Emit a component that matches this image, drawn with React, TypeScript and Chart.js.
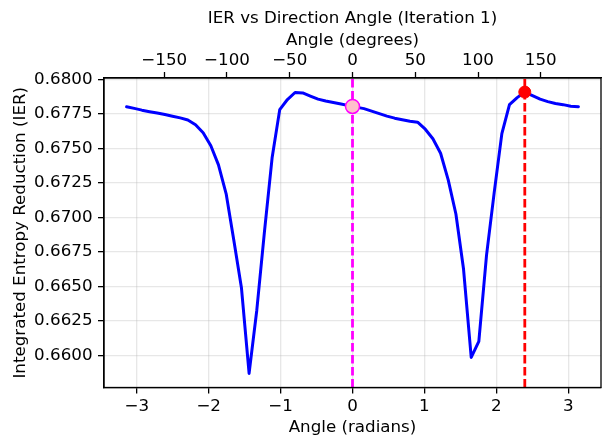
import { useEffect, useRef } from "react";
import { Chart, registerables } from "chart.js";

Chart.register(...registerables);

// Sampled direction angles (radians) and the integrated entropy reduction at each.
const ANGLES_RAD = [
  -3.142, -3.035, -2.929, -2.822, -2.716, -2.609, -2.503, -2.396, -2.29, -2.183,
  -2.077, -1.97, -1.864, -1.757, -1.651, -1.544, -1.438, -1.331, -1.225, -1.118,
  -1.012, -0.905, -0.799, -0.692, -0.586, -0.479, -0.373, -0.266, -0.16, -0.053,
  0.053, 0.16, 0.266, 0.373, 0.479, 0.586, 0.692, 0.799, 0.905, 1.012,
  1.118, 1.225, 1.331, 1.438, 1.544, 1.651, 1.757, 1.864, 1.97, 2.077,
  2.183, 2.29, 2.396, 2.503, 2.609, 2.716, 2.822, 2.929, 3.035, 3.142,
];

const IER_VALUES = [
  0.67803, 0.67791, 0.67778, 0.67767, 0.67757, 0.67746, 0.67734, 0.67722, 0.67707, 0.67673,
  0.67615, 0.6752, 0.67382, 0.67172, 0.66837, 0.66489, 0.65871, 0.66329, 0.66895, 0.67433,
  0.67782, 0.67855, 0.67906, 0.67903, 0.6788, 0.67858, 0.67844, 0.67833, 0.67822, 0.67811,
  0.678, 0.67789, 0.67771, 0.67753, 0.67735, 0.6772, 0.67709, 0.67698, 0.67691, 0.6764,
  0.67571, 0.67466, 0.67273, 0.67026, 0.66627, 0.65987, 0.66103, 0.66728, 0.67179, 0.67608,
  0.67818, 0.67869, 0.67909, 0.67884, 0.67858, 0.6784, 0.67826, 0.67818, 0.67807, 0.67803,
];

// Current search direction and its IER.
const CURRENT_ANGLE = 0;
const CURRENT_IER = 0.67805;

const TITLE = "IER vs Direction Angle (Iteration 1)";
const X_TICKS_RAD = [-3, -2, -1, 0, 1, 2, 3];
const X_TICKS_DEG = [-150, -100, -50, 0, 50, 100, 150];
const Y_TICKS = [0.66, 0.6625, 0.665, 0.6675, 0.67, 0.6725, 0.675, 0.6775, 0.68];

const X_LIMITS = [-3.4558, 3.4558];
const Y_LIMITS = [0.65769, 0.68011];

const FONT_FAMILY = "'DejaVu Sans', 'Liberation Sans', sans-serif";
const FONT_SIZE = 16.7;

const fmtSigned = (v: number) => (v < 0 ? "\u2212" + Math.abs(v) : String(v));

const framePlugin = {
  id: "frame",
  afterDatasetsDraw(chart: any) {
    const { ctx, chartArea: a } = chart;
    ctx.save();
    ctx.strokeStyle = "#000";
    ctx.lineWidth = 1.3;
    ctx.strokeRect(a.left, a.top, a.right - a.left, a.bottom - a.top);
    ctx.restore();
  },
};

export default function App() {
  const canvasRef = useRef<HTMLCanvasElement | null>(null);

  useEffect(() => {
    const canvas = canvasRef.current;
    if (!canvas) return;

    let bestIdx = 0;
    IER_VALUES.forEach((v, i) => {
      if (v > IER_VALUES[bestIdx]) bestIdx = i;
    });
    const bestAngle = ANGLES_RAD[bestIdx];
    const bestIer = IER_VALUES[bestIdx];
    const toDeg = (r: number) => (r * 180) / Math.PI;

    const tickFont = { family: FONT_FAMILY, size: FONT_SIZE };

    const chart = new Chart(canvas, {
      type: "line",
      data: {
        datasets: [
          {
            label: "best",
            data: [{ x: bestAngle, y: bestIer }],
            showLine: false,
            pointRadius: 6,
            pointBackgroundColor: "#ff0000",
            pointBorderColor: "#ff0000",
            pointBorderWidth: 1,
            order: 0,
          },
          {
            label: "current",
            data: [{ x: CURRENT_ANGLE, y: CURRENT_IER }],
            showLine: false,
            pointRadius: 7,
            pointBackgroundColor: "#ffc0cb",
            pointBorderColor: "#ff00ff",
            pointBorderWidth: 1.5,
            order: 0,
          },
          {
            label: "best direction",
            data: [
              { x: bestAngle, y: Y_LIMITS[0] },
              { x: bestAngle, y: Y_LIMITS[1] },
            ],
            borderColor: "#ff0000",
            borderWidth: 2.8,
            borderDash: [8.5, 3.5],
            pointRadius: 0,
            order: 1,
          },
          {
            label: "current direction",
            data: [
              { x: CURRENT_ANGLE, y: Y_LIMITS[0] },
              { x: CURRENT_ANGLE, y: Y_LIMITS[1] },
            ],
            borderColor: "#ff00ff",
            borderWidth: 2.8,
            borderDash: [8.5, 3.5],
            pointRadius: 0,
            order: 1,
          },
          {
            label: "IER",
            data: ANGLES_RAD.map((a, i) => ({ x: a, y: IER_VALUES[i] })),
            borderColor: "#0000ff",
            borderWidth: 3,
            borderJoinStyle: "round",
            borderCapStyle: "round",
            pointRadius: 0,
            tension: 0,
            order: 2,
          },
        ],
      },
      options: {
        responsive: false,
        animation: false,
        devicePixelRatio: 1,
        layout: { autoPadding: false, padding: { left: 0, right: 2, top: 0, bottom: 0 } },
        plugins: {
          legend: { display: false },
          tooltip: { enabled: false },
          title: { display: false },
        },
        scales: {
          x: {
            type: "linear",
            position: "bottom",
            min: X_LIMITS[0],
            max: X_LIMITS[1],
            afterBuildTicks: (s: any) => {
              s.ticks = X_TICKS_RAD.map((v) => ({ value: v }));
            },
            afterFit: (s: any) => {
              s.height = 52.5;
              s.paddingLeft = 0;
              s.paddingRight = 0;
            },
            ticks: {
              color: "#000",
              font: tickFont,
              padding: 3,
              maxRotation: 0,
              callback: (v: any) => fmtSigned(Number(v)),
            },
            grid: {
              color: "rgba(176,176,176,0.3)",
              lineWidth: 1.3,
              tickColor: "#000",
              tickLength: 6,
              tickWidth: 1.3,
            },
            border: { display: true, color: "#000", width: 1.3 },
            title: {
              display: true,
              text: "Angle (radians)",
              color: "#000",
              font: tickFont,
              padding: { top: 0, bottom: 2 },
            },
          },
          xTop: {
            type: "linear",
            axis: "x",
            position: "top",
            min: toDeg(X_LIMITS[0]),
            max: toDeg(X_LIMITS[1]),
            afterBuildTicks: (s: any) => {
              s.ticks = X_TICKS_DEG.map((v) => ({ value: v }));
            },
            afterFit: (s: any) => {
              s.height = 78;
              s.paddingLeft = 0;
              s.paddingRight = 0;
            },
            ticks: {
              color: "#000",
              font: tickFont,
              padding: 1.5,
              maxRotation: 0,
              callback: (v: any) => fmtSigned(Number(v)),
            },
            grid: {
              drawOnChartArea: false,
              tickColor: "#000",
              tickLength: 6,
              tickWidth: 1.3,
            },
            border: { display: true, color: "#000", width: 1.3 },
            title: {
              display: true,
              text: [TITLE, "Angle (degrees)"],
              color: "#000",
              font: { family: FONT_FAMILY, size: FONT_SIZE, lineHeight: 22 / FONT_SIZE },
              padding: { top: 7.5, bottom: 0 },
            },
          },
          y: {
            type: "linear",
            position: "left",
            min: Y_LIMITS[0],
            max: Y_LIMITS[1],
            afterBuildTicks: (s: any) => {
              s.ticks = Y_TICKS.map((v) => ({ value: v }));
            },
            afterFit: (s: any) => {
              s.width = 104;
            },
            ticks: {
              color: "#000",
              font: tickFont,
              padding: 5.5,
              callback: (v: any) => Number(v).toFixed(4),
            },
            grid: {
              color: "rgba(176,176,176,0.3)",
              lineWidth: 1.3,
              tickColor: "#000",
              tickLength: 6,
              tickWidth: 1.3,
            },
            border: { display: true, color: "#000", width: 1.3 },
            title: {
              display: true,
              text: "Integrated Entropy Reduction (IER)",
              color: "#000",
              font: tickFont,
              padding: { top: 11, bottom: 0 },
            },
          },
        },
      } as any,
      plugins: [framePlugin],
    });

    return () => chart.destroy();
  }, []);

  return (
    <div style={{ position: "fixed", left: 0, top: 0, width: 603, height: 440, background: "#fff" }}>
      <canvas ref={canvasRef} width={603} height={440} style={{ display: "block" }} />
    </div>
  );
}
